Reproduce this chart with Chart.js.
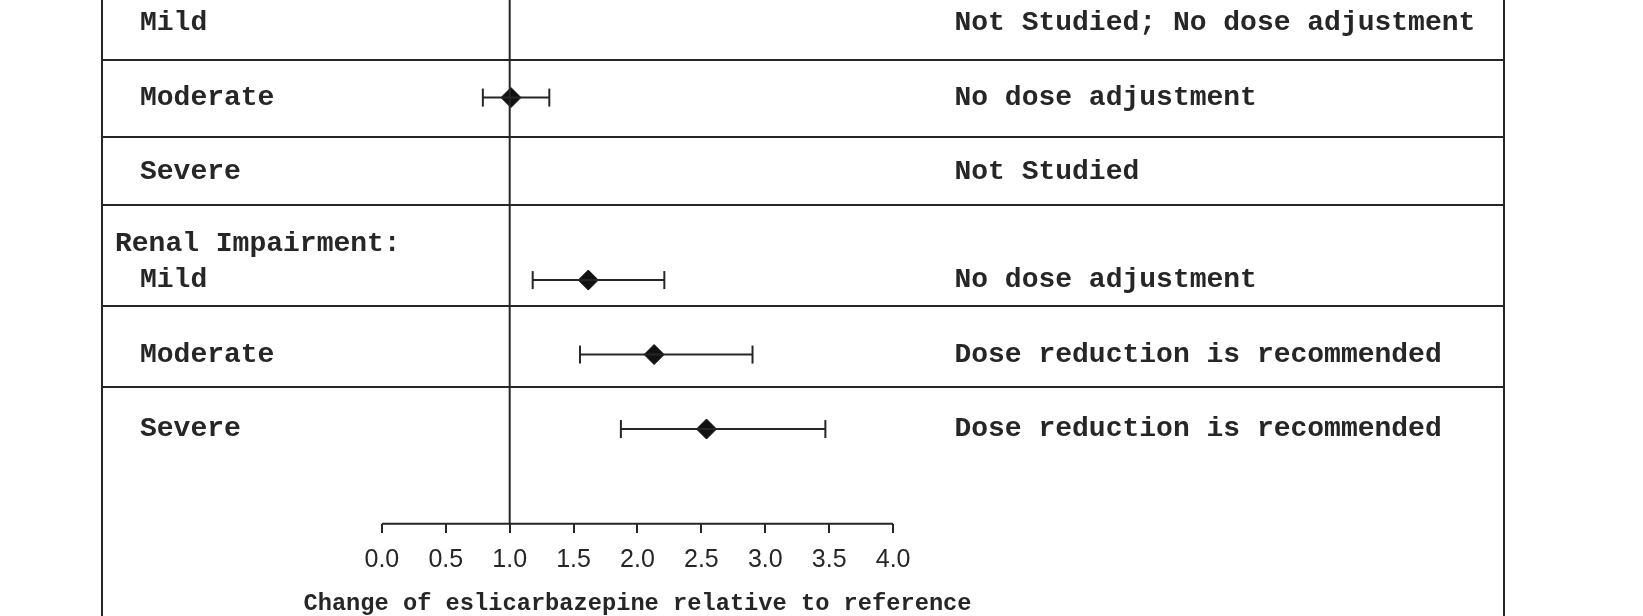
<!DOCTYPE html>
<html lang="en">
<head>
  <meta charset="UTF-8">
  <title>Eslicarbazepine - hepatic and renal impairment</title>
  <script src="https://cdn.jsdelivr.net/npm/chart.js"></script>
  <style>
    body {
      margin: 0;
      background: #fff;
    }
    #wrap {
      width: 1643px;
      height: 616px;
    }
  </style>
</head>
<body>

  <div id="wrap"><canvas id="grafiku"></canvas></div>

  <script>
    // te dhenat, lexuar nga figura
    const groups = ['Hepatic Impairment:', 'Renal Impairment:'];
    const subgroups = ['Mild', 'Moderate', 'Severe'];

    const hepaticEst = [null, 1.01, null];
    const hepaticLow = [null, 0.79, null];
    const hepaticHigh = [null, 1.31, null];

    const renalEst = [1.615, 2.13, 2.54];
    const renalLow = [1.18, 1.55, 1.87];
    const renalHigh = [2.21, 2.90, 3.47];

    const hepaticNotes = ['Not Studied; No dose adjustment', 'No dose adjustment', 'Not Studied'];
    const renalNotes = ['No dose adjustment', 'Dose reduction is recommended', 'Dose reduction is recommended'];

    const xTicks = [0, 0.5, 1, 1.5, 2, 2.5, 3, 3.5, 4];
    const refValue = 1;
    const axisTitle = 'Change of eslicarbazepine relative to reference';

    // faqosja
    const xMin = -2.19, xMax = 8.78;
    const yMin = -0.31, yMax = 7.96;
    const headerGap = 0.45;          // hapesira per titullin e grupit
    const axisY = 6.72;               // ku qendron boshti x
    const separators = [0.49, 1.53, 2.44, 3.80, 4.88];
    const ink = '#262626';
    const mono = '"Liberation Mono", "DejaVu Sans Mono", monospace';

    // ndertoj rreshtat
    const rows = [];
    const est = [hepaticEst, renalEst], lo = [hepaticLow, renalLow], hi = [hepaticHigh, renalHigh];
    const notes = [hepaticNotes, renalNotes];
    groups.forEach((g, gi) => {
      subgroups.forEach((s, si) => {
        rows.push({
          group: gi, first: si === 0, label: s,
          y: gi * subgroups.length + si + gi * headerGap,
          est: est[gi][si], lo: lo[gi][si], hi: hi[gi][si],
          note: notes[gi][si]
        });
      });
    });

    const datasets = [];

    // vija e references
    datasets.push({
      data: [{x: refValue, y: yMin}, {x: refValue, y: axisY}],
      showLine: true, borderColor: ink, borderWidth: 2, pointRadius: 0
    });

    // boshti 0..4
    datasets.push({
      data: [{x: xTicks[0], y: axisY}, {x: xTicks[xTicks.length - 1], y: axisY}],
      showLine: true, borderColor: ink, borderWidth: 2, pointRadius: 0
    });

    // intervalet
    rows.filter(r => r.est !== null).forEach(r => {
      datasets.push({
        data: [{x: r.lo, y: r.y}, {x: r.hi, y: r.y}],
        showLine: true, borderColor: ink, borderWidth: 2,
        pointStyle: 'line', rotation: 90, pointRadius: 9,
        pointBorderColor: ink, pointBorderWidth: 2
      });
    });

    // vleresimet (diamante)
    datasets.push({
      data: rows.filter(r => r.est !== null).map(r => ({x: r.est, y: r.y})),
      pointStyle: 'rectRot', pointRadius: 10,
      backgroundColor: '#111', borderColor: '#111', borderWidth: 1
    });

    const tablePlugin = {
      id: 'tablePlugin',
      afterDraw(chart) {
        const {ctx, chartArea, scales} = chart;
        ctx.save();
        ctx.strokeStyle = ink;
        ctx.lineWidth = 2;
        ctx.beginPath();
        ctx.moveTo(chartArea.left, chartArea.top);
        ctx.lineTo(chartArea.left, chartArea.bottom);
        ctx.moveTo(chartArea.right, chartArea.top);
        ctx.lineTo(chartArea.right, chartArea.bottom);
        ctx.stroke();

        ctx.fillStyle = ink;
        ctx.font = 'bold 28px ' + mono;
        ctx.textBaseline = 'alphabetic';
        ctx.textAlign = 'left';
        const noteX = scales.x.getPixelForValue(4.48);
        rows.forEach(r => {
          const base = scales.y.getPixelForValue(r.y) + 7;
          if (r.first) {
            ctx.fillText(groups[r.group], chartArea.left + 13, base - 36);
          }
          ctx.fillText(r.label, chartArea.left + 38, base);
          ctx.fillText(r.note, noteX, base);
        });

        // titulli i boshtit, ne mes te shkalles 0..4
        const midX = scales.x.getPixelForValue((xTicks[0] + xTicks[xTicks.length - 1]) / 2);
        ctx.font = 'bold 23.7px ' + mono;
        ctx.textAlign = 'center';
        ctx.textBaseline = 'middle';
        ctx.fillText(axisTitle, midX, scales.y.getPixelForValue(axisY) + 80);
        ctx.restore();
      }
    };

    new Chart(document.getElementById('grafiku'), {
      type: 'scatter',
      data: { datasets },
      plugins: [tablePlugin],
      options: {
        responsive: true,
        maintainAspectRatio: false,
        animation: false,
        layout: { autoPadding: false, padding: { left: 102, right: 139, top: 0, bottom: 0 } },
        plugins: { legend: { display: false }, tooltip: { enabled: false } },
        scales: {
          x: {
            type: 'linear', min: xMin, max: xMax,
            position: { y: axisY },
            border: { display: false },
            grid: { drawOnChartArea: false, drawTicks: true, tickLength: 9, color: ink, lineWidth: 2 },
            afterBuildTicks: scale => { scale.ticks = xTicks.map(v => ({value: v})); },
            ticks: {
              callback: v => v.toFixed(1),
              color: ink, padding: 12, maxRotation: 0, autoSkip: false,
              font: { family: '"Liberation Sans", Arial, sans-serif', size: 25 }
            }
          },
          y: {
            type: 'linear', min: yMin, max: yMax, reverse: true,
            border: { display: false },
            grid: { drawTicks: false, color: ink, lineWidth: 2 },
            afterBuildTicks: scale => { scale.ticks = separators.map(v => ({value: v})); },
            ticks: { display: false }
          }
        }
      }
    });
  </script>

</body>
</html>
